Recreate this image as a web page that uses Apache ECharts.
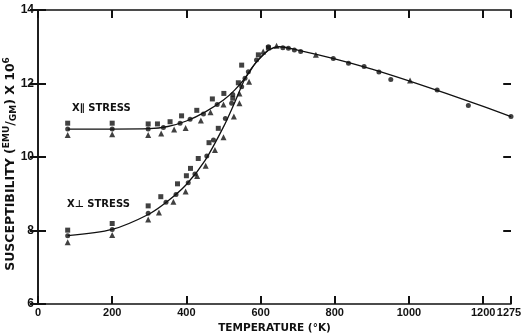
<!DOCTYPE html>
<html>
<head>
<meta charset="utf-8">
<script src="https://cdn.jsdelivr.net/npm/echarts@6/dist/echarts.min.js"></script>
<style>
  html, body { margin: 0; padding: 0; background: #fff; }
  #main { width: 522px; height: 335px; }
</style>
</head>
<body>
<div id="main"></div>
<script>
// tick labels and tick marks
const xLabels = [0, 200, 400, 600, 800, 1000, 1200]
const xEndLabel = [1275]
const xTickVals = [200, 400, 600, 800, 1000, 1200]
const yTickVals = [8, 10, 12]

// smooth curves drawn through the data (temperature K, susceptibility)
const parCurve = [
  [80, 10.76], [200, 10.76], [300, 10.77], [350, 10.83], [400, 10.98], [450, 11.22],
  [500, 11.55], [530, 11.82], [560, 12.17], [590, 12.6], [620, 12.9], [650, 13.0],
  [700, 12.91], [800, 12.67], [900, 12.39], [1000, 12.07], [1100, 11.73], [1200, 11.38], [1275, 11.1]
]
const perpCurve = [
  [80, 7.86], [200, 8.03], [300, 8.45], [350, 8.8], [400, 9.25], [450, 9.9],
  [500, 10.82], [530, 11.48], [560, 12.17], [590, 12.6], [620, 12.9]
]

// measured points
const squares = [
  [80, 10.92], [200, 10.92], [297, 10.9], [322, 10.9], [356, 10.96], [387, 11.12], [428, 11.27],
  [470, 11.58], [501, 11.73], [540, 12.02], [549, 12.5], [594, 12.78], [621, 12.97],
  [80, 8.01], [200, 8.19], [297, 8.67], [331, 8.92], [376, 9.27], [400, 9.49], [411, 9.69],
  [432, 9.96], [461, 10.39], [486, 10.78], [525, 11.6]
]
const circles = [
  [80, 10.76], [200, 10.76], [297, 10.76], [338, 10.8], [383, 10.92], [410, 11.03], [446, 11.17],
  [483, 11.43], [525, 11.7], [558, 12.14], [567, 12.32], [589, 12.64],
  [80, 7.86], [200, 8.03], [297, 8.47], [345, 8.77], [372, 8.98], [405, 9.3], [423, 9.54],
  [455, 10.03], [473, 10.46], [505, 11.05], [522, 11.46], [549, 11.91],
  [621, 13.0], [660, 12.97], [675, 12.96], [691, 12.91], [708, 12.87], [796, 12.68], [837, 12.55],
  [879, 12.46], [919, 12.31], [951, 12.11], [1076, 11.82], [1160, 11.4], [1275, 11.1]
]
const triangles = [
  [80, 10.6], [200, 10.62], [297, 10.6], [332, 10.64], [367, 10.75], [398, 10.79], [439, 10.99],
  [465, 11.22], [500, 11.43], [543, 11.73], [569, 12.05],
  [80, 7.68], [200, 7.88], [297, 8.3], [326, 8.49], [365, 8.78], [398, 9.06], [429, 9.48],
  [452, 9.76], [477, 10.19], [500, 10.54], [528, 11.1], [543, 11.46],
  [607, 12.87], [643, 13.03], [749, 12.78], [1003, 12.08]
]

const font = 'DejaVu Sans'
const tickFont = 'Liberation Sans'
const ink = '#111'
const X_MIN = 0, X_MAX = 1275, Y_MIN = 6, Y_MAX = 14
// tick length in axis units (about 8 px)
const TX = 21, TY = 0.22

var myChart = echarts.init(document.getElementById('main'))

var labelStyle = { fontFamily: tickFont, fontWeight: 'bold', fontSize: 11, color: ink }

// inward tick marks as short mark-line segments on all four sides
var tickSegs = []
xTickVals.forEach((v) => {
  tickSegs.push([{ coord: [v, Y_MIN] }, { coord: [v, Y_MIN + TY] }])
  tickSegs.push([{ coord: [v, Y_MAX] }, { coord: [v, Y_MAX - TY] }])
})
yTickVals.forEach((v) => {
  tickSegs.push([{ coord: [X_MIN, v] }, { coord: [X_MIN + TX, v] }])
  tickSegs.push([{ coord: [X_MAX, v] }, { coord: [X_MAX - TX, v] }])
})

var option = {
  animation: false,
  backgroundColor: '#fff',
  grid: { left: 38, right: 11, top: 10, bottom: 31, outerBoundsMode: 'none', containLabel: false },
  xAxis: [
    {
      type: 'value', min: X_MIN, max: X_MAX, interval: 200, position: 'bottom',
      name: 'TEMPERATURE (°K)', nameLocation: 'middle', nameGap: 17,
      nameTextStyle: { fontFamily: font, fontWeight: 'bold', fontSize: 10.5, color: ink },
      axisLine: { show: true, lineStyle: { color: ink, width: 1.5 } },
      axisTick: { show: true, inside: true, length: 8, lineStyle: { color: ink, width: 2 } },
      axisLabel: Object.assign({ customValues: xLabels, formatter: (v) => String(v), margin: 3 }, labelStyle),
      splitLine: { show: false }
    },
    {
      type: 'value', min: X_MIN, max: X_MAX, interval: 200, position: 'top',
      axisLine: { show: true, lineStyle: { color: ink, width: 1.5 } },
      axisTick: { show: true, inside: true, length: 8, lineStyle: { color: ink, width: 2 } },
      axisLabel: { show: false },
      splitLine: { show: false }
    },
    {
      type: 'value', min: X_MIN, max: X_MAX, position: 'bottom',
      axisLine: { show: false },
      axisTick: { show: false },
      axisLabel: Object.assign({ customValues: xEndLabel, formatter: (v) => String(v), margin: 3, padding: [0, 4, 0, 0] }, labelStyle),
      splitLine: { show: false }
    }
  ],
  yAxis: [
    {
      type: 'value', min: Y_MIN, max: Y_MAX, interval: 2, position: 'left',
      name: '{n|SUSCEPTIBILITY (}{sup|EMU}{n|/}{sub|GM}{n|) X 10}{sup|6}',
      nameLocation: 'middle', nameGap: 19, nameRotate: 90, nameMoveOverlap: false,
      nameTextStyle: {
        color: ink,
        padding: [0, 14, 0, 0],
        rich: {
          n: { fontFamily: font, fontWeight: 'bold', fontSize: 12.5, color: ink },
          sup: { fontFamily: font, fontWeight: 'bold', fontSize: 9, color: ink, padding: [0, 0, 8, 0] },
          sub: { fontFamily: font, fontWeight: 'bold', fontSize: 9, color: ink, padding: [6, 0, 0, 0] }
        }
      },
      axisLine: { show: true, lineStyle: { color: ink, width: 1.5 } },
      axisTick: { show: true, inside: true, length: 8, lineStyle: { color: ink, width: 2 } },
      axisLabel: { margin: 4, fontFamily: tickFont, fontWeight: 'bold', fontSize: 12, color: ink },
      splitLine: { show: false }
    },
    {
      type: 'value', min: Y_MIN, max: Y_MAX, interval: 2, position: 'right',
      axisLine: { show: true, lineStyle: { color: ink, width: 1.5 } },
      axisTick: { show: true, inside: true, length: 8, lineStyle: { color: ink, width: 2 } },
      axisLabel: { show: false },
      splitLine: { show: false }
    }
  ],
  graphic: [
    { type: 'text', left: 72, top: 103, style: { text: 'X∥ STRESS', font: 'bold 10px "DejaVu Sans"', fill: ink } },
    { type: 'text', left: 67, top: 199, style: { text: 'X⊥ STRESS', font: 'bold 10px "DejaVu Sans"', fill: ink } }
  ],
  series: [
    {
      type: 'line', data: parCurve, smooth: 0.3, showSymbol: false, lineStyle: { color: ink, width: 1.3 },
      markLine: {
        silent: true, animation: false, symbol: ['none', 'none'],
        label: { show: false },
        lineStyle: { color: ink, width: 2, type: 'solid' },
        data: tickSegs
      }
    },
    { type: 'line', data: perpCurve, smooth: 0.3, showSymbol: false, lineStyle: { color: ink, width: 1.3 } },
    { type: 'scatter', data: squares, symbol: 'rect', symbolSize: 5, itemStyle: { color: ink } },
    { type: 'scatter', data: circles, symbol: 'circle', symbolSize: 5, itemStyle: { color: ink } },
    { type: 'scatter', data: triangles, symbol: 'triangle', symbolSize: 6, itemStyle: { color: ink } }
  ]
}

myChart.setOption(option)
window.onresize = function () {
  myChart.resize()
}
</script>
</body>
</html>
